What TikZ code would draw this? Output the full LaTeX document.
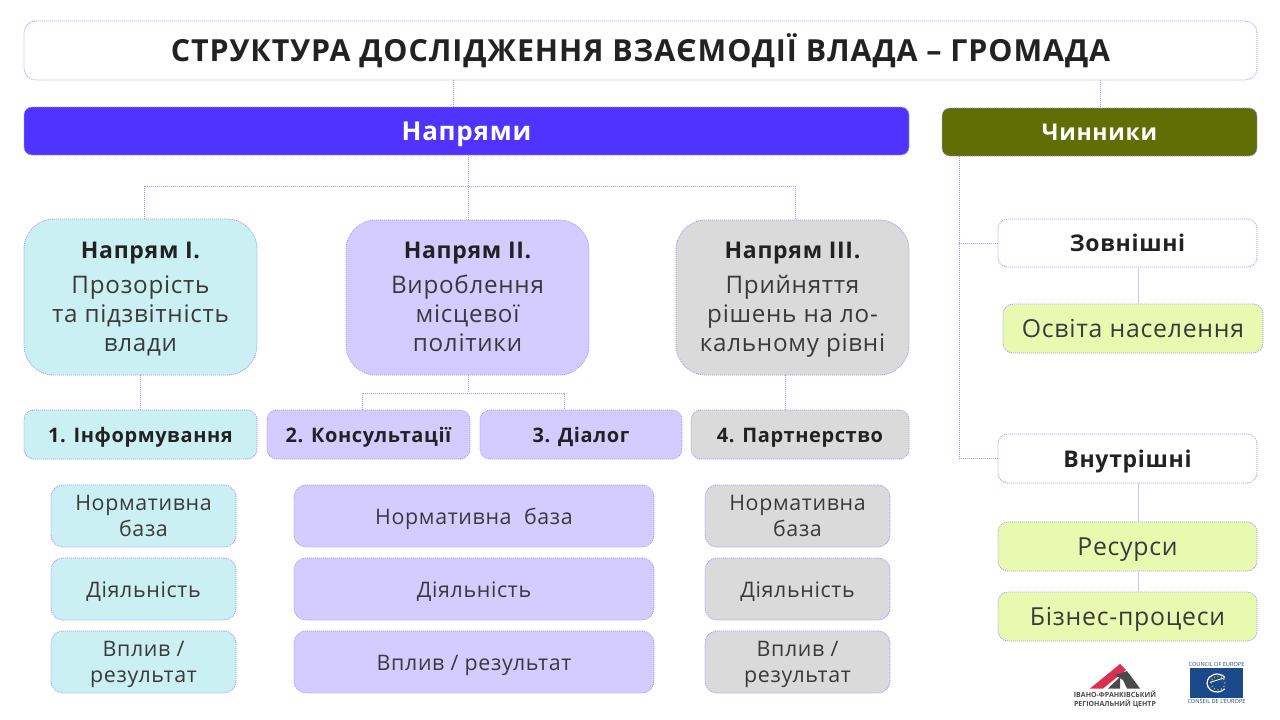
\documentclass[tikz,border=0pt]{standalone}
\usepackage{fontspec}
\setmainfont[LetterSpace=3]{Open Sans}
\newfontfamily\logofont{Open Sans}
\usetikzlibrary{calc}
\definecolor{edge}{HTML}{A594FF}
\definecolor{ink}{HTML}{222222}
\definecolor{soft}{HTML}{3A3A3A}
\definecolor{indigo}{HTML}{5033FF}
\definecolor{olive}{HTML}{5F6F06}
\definecolor{cyanbox}{HTML}{CBF0F4}
\definecolor{lilacbox}{HTML}{D4CCFF}
\definecolor{greybox}{HTML}{DADADA}
\definecolor{limebox}{HTML}{EAF9B0}
\definecolor{coeblue}{HTML}{1B4A8C}
\definecolor{logored}{HTML}{D9304F}
\definecolor{logodark}{HTML}{4A4A4A}
\newcommand{\txtstrut}{\rule[-.2\baselineskip]{0pt}{1.02\baselineskip}}
\newcommand{\lift}{\rule{0pt}{19.5pt}}
\tikzset{
  bx/.style 2 args={draw=edge,line width=.8pt,dash pattern=on 1pt off 1pt,minimum width=#1,minimum height=#2,inner sep=0pt,align=center,text=soft,
    execute at begin node=\txtstrut,execute at end node=\txtstrut},
  tall/.style={rounded corners=30pt,font=\fontsize{24.2}{29}\selectfont},
  row/.style={rounded corners=10pt,font=\fontsize{20}{25}\selectfont\bfseries,text=ink},
  small/.style={rounded corners=12pt,font=\fontsize{21.4}{26}\selectfont},
  side/.style={rounded corners=10pt,font=\fontsize{24.8}{28}\selectfont},
  sidehead/.style={rounded corners=10pt,text=ink,font=\fontsize{23}{28}\selectfont\bfseries},
  link/.style={draw=edge,line width=.8pt,dash pattern=on 1pt off 1pt},
  solidlink/.style={draw=lilacbox!85!edge,line width=1pt},
  logotxt/.style={inner sep=0pt,text=logodark,font=\logofont\fontsize{7}{9}\selectfont\bfseries,align=center},
  coetxt/.style={inner sep=0pt,text=coeblue,font=\logofont\fontsize{5.6}{7}\selectfont}
}
\newcommand{\headline}[1]{{\rule{0pt}{21pt}\fontsize{23}{29}\selectfont\bfseries\color{ink}#1}}
\begin{document}
\begin{tikzpicture}[x=1pt,y=-1pt]
\useasboundingbox (0,0) rectangle (1280,720);
\fill[white] (0,0) rectangle (1280,720);
% headers
\node[bx={1233pt}{59pt},rounded corners=12pt,text=ink,font=\fontsize{30.4}{30}\selectfont\bfseries] (title) at (640.5,50.5) {СТРУКТУРА ДОСЛІДЖЕННЯ ВЗАЄМОДІЇ ВЛАДА – ГРОМАДА};
\node[bx={885pt}{48pt},fill=indigo,rounded corners=8pt,text=white,font=\fontsize{26}{31}\selectfont\bfseries] (nap) at (466.5,131) {Напрями};
\node[bx={315pt}{48pt},fill=olive,rounded corners=8pt,text=white,font=\fontsize{23}{28}\selectfont\bfseries] (chyn) at (1099.5,132) {Чинники};
% directions
\node[bx={233pt}{156pt},tall,fill=cyanbox] (d1) at (140.5,297) {\headline{Напрям I.}\\[6pt]Прозорість\\та підзвітність\\влади};
\node[bx={243pt}{155pt},tall,fill=lilacbox] (d2) at (467.5,297.5) {\headline{Напрям II.}\\[6pt]Вироблення\\місцевої\\політики};
\node[bx={233pt}{155pt},tall,fill=greybox] (d3) at (792.5,297.5) {\headline{Напрям III.}\\[6pt]Прийняття\\рішень на ло-\\кальному рівні};
% levels
\node[bx={233pt}{49pt},row,fill=cyanbox] (l1) at (140.5,434.5) {1. Інформування};
\node[bx={203pt}{49pt},row,fill=lilacbox] (l2) at (368.5,434.5) {2. Консультації};
\node[bx={202pt}{49pt},row,fill=lilacbox] (l3) at (581,434.5) {3. Діалог};
\node[bx={218pt}{49pt},row,fill=greybox] (l4) at (800,434.5) {4. Партнерство};
% blocks
\node[bx={185pt}{62pt},small,fill=cyanbox] (a1) at (143.5,516) {\lift Нормативна\\база};
\node[bx={185pt}{62pt},small,fill=cyanbox] (a2) at (143.5,589) {Діяльність};
\node[bx={185pt}{62pt},small,fill=cyanbox] (a3) at (143.5,662) {\lift Вплив /\\результат};
\node[bx={360pt}{62pt},small,fill=lilacbox] (b1) at (474,516) {Нормативна\ \ база};
\node[bx={360pt}{62pt},small,fill=lilacbox] (b2) at (474,589) {Діяльність};
\node[bx={360pt}{62pt},small,fill=lilacbox] (b3) at (474,662) {Вплив / результат};
\node[bx={185pt}{62pt},small,fill=greybox] (c1) at (797.5,516) {\lift Нормативна\\база};
\node[bx={185pt}{62pt},small,fill=greybox] (c2) at (797.5,589) {Діяльність};
\node[bx={185pt}{62pt},small,fill=greybox] (c3) at (797.5,662) {\lift Вплив /\\результат};
% factors
\node[bx={259pt}{48pt},sidehead] (ext) at (1127.5,243) {Зовнішні};
\node[bx={260pt}{49pt},side,fill=limebox] (edu) at (1133,328.5) {Освіта населення};
\node[bx={259pt}{49pt},sidehead] (int) at (1127.5,458.5) {Внутрішні};
\node[bx={259pt}{49pt},side,fill=limebox] (res) at (1127.5,546.5) {Ресурси};
\node[bx={259pt}{49pt},side,fill=limebox] (biz) at (1127.5,616.5) {Бізнес-процеси};
% guide coordinates
\coordinate (xa) at (453,0);
\coordinate (xb) at (1100,0);
\coordinate (xc) at (468,0);
\coordinate (xd) at (144,0);
\coordinate (xe) at (795,0);
\coordinate (xf) at (140,0);
\coordinate (xg) at (362,0);
\coordinate (xh) at (564,0);
\coordinate (xi) at (785,0);
\coordinate (xj) at (959,0);
\coordinate (xk) at (1138,0);
\coordinate (yt) at (0,186);
\coordinate (ym) at (0,393);
% connectors
\draw[link] (title.south -| xa) -- (nap.north -| xa);
\draw[link] (title.south -| xb) -- (chyn.north -| xb);
\draw[link] (nap.south -| xc) -- (d2.north -| xc);
\draw[link] (d1.north -| xd) -- (xd |- yt) -- (xe |- yt) -- (d3.north -| xe);
\draw[link] (d1.south -| xf) -- (l1.north -| xf);
\draw[link] (d2.south -| xc) -- (xc |- ym);
\draw[link] (l2.north -| xg) -- (xg |- ym) -- (xh |- ym) -- (l3.north -| xh);
\draw[link] (d3.south -| xi) -- (l4.north -| xi);
\draw[link] (chyn.south -| xj) -- (xj |- int.west) -- (int.west);
\draw[link] (xj |- ext.west) -- (ext.west);
\draw[solidlink] (ext.south -| xk) -- (edu.north -| xk);
\draw[solidlink] (int.south -| xk) -- (res.north -| xk);
\draw[solidlink] (res.south -| xk) -- (biz.north -| xk);
% regional centre logo
\fill[logored] (1090,688.5) -- (1120,664) -- (1126,670) -- (1103,688.5) -- cycle;
\fill[logodark] (1108,688.5) -- (1120,677) -- (1120,688.5) -- cycle;
\fill[logodark] (1115,675) -- (1127,671) -- (1140,688.5) -- (1127,688.5) -- (1123,680) -- cycle;
\node[logotxt,anchor=north] (lg) at (1115,691) {ІВАНО-ФРАНКІВСЬКИЙ\\РЕГІОНАЛЬНИЙ ЦЕНТР};
% Council of Europe logo
\fill[coeblue] (1190,667.5) rectangle (1243,698);
\node[coetxt,anchor=south] (ct) at (1216.5,667) {COUNCIL OF EUROPE};
\node[coetxt,anchor=north] (cb) at (1216.5,699) {CONSEIL DE L'EUROPE};
\foreach \a in {0,30,...,330}{\fill[yellow!85!orange] (1218,683) ++(\a:6.8) circle (.7);}
\draw[white,line width=1.2pt] (1224.7,688.8) arc (40:320:10 and 9);
\draw[white,line width=.9pt] (1210,682.3) -- (1225,677.7);
\end{tikzpicture}
\end{document}
